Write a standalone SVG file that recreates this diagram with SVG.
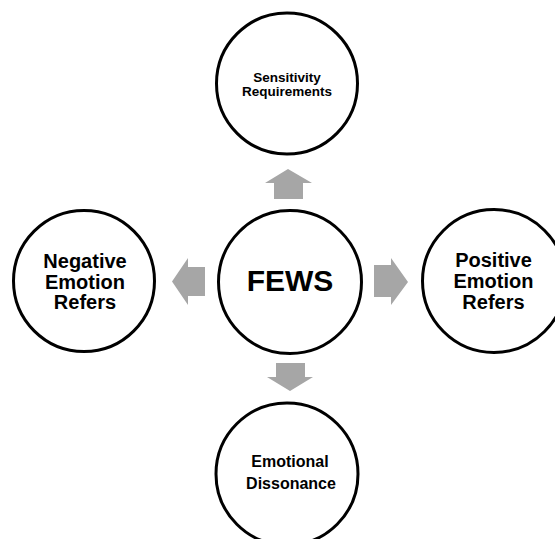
<svg xmlns="http://www.w3.org/2000/svg" width="555" height="539" viewBox="0 0 555 539">
<style>
.node circle{fill:#fff;stroke:#000;stroke-width:3}
text{font-family:"Liberation Sans",Arial,sans-serif;font-weight:bold;fill:#000;text-anchor:middle}
.arrow{fill:#a6a6a6}
.big{font-size:20px}
</style>
<rect width="555" height="539" fill="#fff"/>
<g id="connectors">
<polygon class="arrow" points="274,199 274,183 265,183 288,169 312,183 303,183 303,199"/>
<polygon class="arrow" points="276,363 305,363 305,377 313,377 290,391 267,377 276,377"/>
<polygon class="arrow" points="205,267 188,267 188,258 172,281.5 188,305 188,296 205,296"/>
<polygon class="arrow" points="374,265 391,265 391,258 408,282 391,305 391,297 374,297"/>
</g>
<g id="top" class="node">
<circle cx="287" cy="83.5" r="70.5"/>
<text x="287" y="82" font-size="13.5">Sensitivity</text>
<text x="287" y="96" font-size="13.5">Requirements</text>
</g>
<g id="center" class="node">
<circle cx="290" cy="282" r="71.5"/>
<text x="290" y="291" font-size="30">FEWS</text>
</g>
<g id="left" class="node">
<circle cx="84" cy="281" r="70.5"/>
<text class="big" x="85" y="267.5">Negative</text>
<text class="big" x="85" y="288.5">Emotion</text>
<text class="big" x="85" y="309">Refers</text>
</g>
<g id="right" class="node">
<circle cx="494" cy="281" r="71.5"/>
<text class="big" x="493.5" y="267">Positive</text>
<text class="big" x="493.5" y="288">Emotion</text>
<text class="big" x="493.5" y="309">Refers</text>
</g>
<g id="bottom" class="node">
<circle cx="287" cy="474" r="71"/>
<text x="290" y="467" font-size="16">Emotional</text>
<text x="291" y="489" font-size="16">Dissonance</text>
</g>
</svg>
